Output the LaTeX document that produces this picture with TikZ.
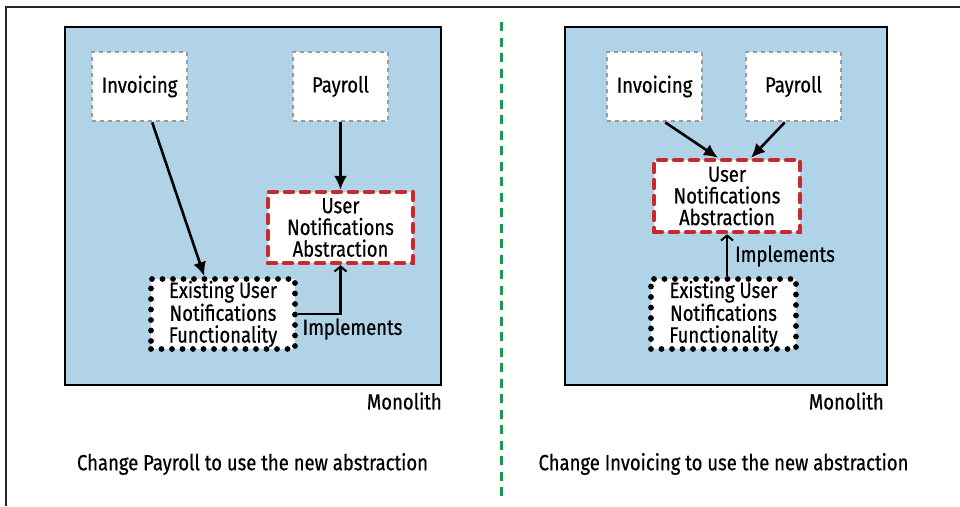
\documentclass[tikz,border=0pt]{standalone}
\usepackage{fontspec}
\setmainfont[FakeStretch=0.84,FakeBold=0.6]{Fira Sans}
\usetikzlibrary{arrows.meta,calc}
\definecolor{monoblue}{HTML}{B1D3E8}
\definecolor{absred}{HTML}{C8282E}
\definecolor{svcgray}{HTML}{9A9A9A}
\definecolor{divgreen}{HTML}{1A9A4A}
\tikzset{
  txt/.style={font=\fontsize{22}{21.7}\selectfont, text=black, inner sep=0pt},
  svcbox/.style={txt, draw=svcgray, line width=2.8pt, dash pattern=on 4pt off 4pt, fill=white, minimum width=95pt, minimum height=69pt, align=center},
  absbox/.style={txt, draw=absred, line width=4.4pt, line cap=round, dash pattern=on 8pt off 8pt, fill=white, minimum width=145pt, minimum height=71pt, align=center},
  exbox/.style={txt, draw=black, line width=5.8pt, line cap=round, dash pattern=on 0pt off 10.5pt, fill=white, minimum width=144pt, minimum height=70pt, align=center},
  mono/.style={draw=black, line width=2.8pt, fill=monoblue},
  flow/.style={draw=black, line width=2.6pt, -{Latex[length=14pt,width=13pt]}},
  impl/.style={draw=black, line width=2.6pt, -{Straight Barb[length=5pt,width=12pt,line width=2pt]}},
}
\begin{document}
\begin{tikzpicture}[x=1pt,y=-1pt]
\useasboundingbox (0,0) rectangle (960,506);
% outer frame
\draw[line width=1.8pt, black!85] (6,506) -- (6,7) -- (960,7);
% divider
\draw[divgreen, line width=3pt, dash pattern=on 9pt off 6.5pt] (501,22) -- (501,496);

% ---------- left panel ----------
\filldraw[mono] (65,27) rectangle (441,385);
\node[svcbox] (inv1) at (139.5,86.5) {Invoicing};
\node[svcbox] (pay1) at (340.5,86.5) {Payroll};
\node[absbox] (abs1) at (340.5,227.5) {User\\Notifications\\Abstraction};
\node[exbox] (ex1) at (223,314) {Existing User\\Notifications\\Functionality};
\draw[flow] ($(inv1.south west)!0.63!(inv1.south east)$) -- ($(ex1.north west)!0.375!(ex1.north east)$);
\draw[flow] (pay1.south) -- (abs1.north);
\draw[impl] (ex1.east) -| (abs1.south);
\node[txt] (imp1) at (352.5,329) {Implements};
\node[txt, anchor=east] (mon1) at (442,401) {Monolith};
\node[txt] (cap1) at (252.5,464) {Change Payroll to use the new abstraction};

% ---------- right panel ----------
\filldraw[mono] (565,27) rectangle (887,385);
\node[svcbox] (inv2) at (654.5,86.5) {Invoicing};
\node[svcbox] (pay2) at (793.5,86.5) {Payroll};
\node[absbox, minimum width=146pt, minimum height=72pt] (abs2) at (727,196) {User\\Notifications\\Abstraction};
\node[exbox, minimum width=145pt] (ex2) at (723.5,314) {Existing User\\Notifications\\Functionality};
\draw[flow] ($(inv2.south west)!0.61!(inv2.south east)$) -- ($(abs2.north west)!0.44!(abs2.north east)$);
\draw[flow] ($(pay2.south west)!0.41!(pay2.south east)$) -- ($(abs2.north west)!0.66!(abs2.north east)$);
\draw[impl] (ex2.north -| abs2.south) -- (abs2.south);
\node[txt] (imp2) at (785,256) {Implements};
\node[txt, anchor=east] (mon2) at (884,401) {Monolith};
\node[txt] (cap2) at (723.5,464) {Change Invoicing to use the new abstraction};
\end{tikzpicture}
\end{document}
